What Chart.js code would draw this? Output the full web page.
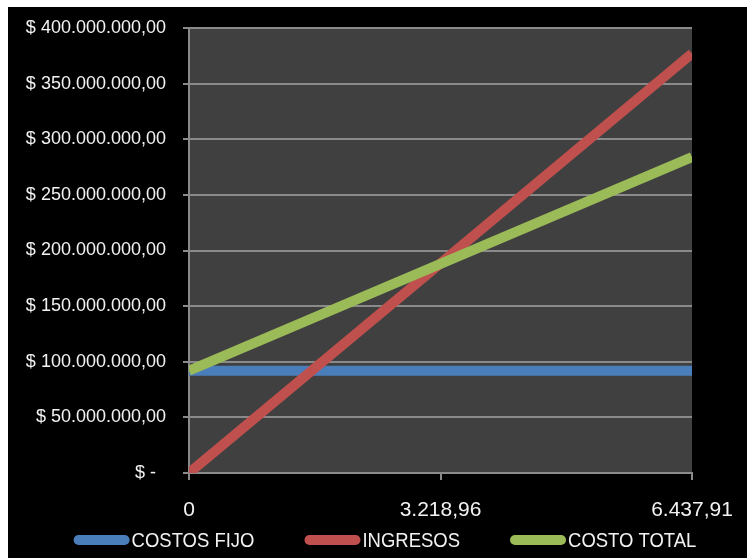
<!DOCTYPE html>
<html>
<head>
<meta charset="utf-8">
<script src="https://cdn.jsdelivr.net/npm/chart.js@4.4.1/dist/chart.umd.min.js"></script>
<style>
  html, body { margin: 0; padding: 0; background: #ffffff; }
  #wrap { position: absolute; left: 8px; top: 7px; width: 739px; height: 551px; background: #000000; }
  canvas { display: block; }
</style>
</head>
<body>
<div id="wrap"><canvas id="chart" width="739" height="551"></canvas></div>
<script>
// Break-even chart: quantities on the category axis, money on the value axis
const categories = ['0', '3.218,96', '6.437,91'];
const costosFijo = [92000000, 92000000, 92000000];
const ingresos = [0, 188500000, 377000000];
const costoTotal = [92000000, 188000000, 284000000];
const seriesNames = ['COSTOS FIJO', 'INGRESOS', 'COSTO TOTAL'];
const seriesColors = ['#4A7EBB', '#C0504D', '#9BBB59'];

const yMin = 0, yMax = 400000000, yStep = 50000000;

function money(v) {
  if (v === 0) return '$ -  ';
  const s = Math.round(v).toString().replace(/\B(?=(\d{3})+(?!\d))/g, '.');
  return '$ ' + s + ',00';
}

// Dark fill behind the plotting area
const plotBackground = {
  id: 'plotBackground',
  beforeDraw(chart) {
    const a = chart.chartArea, ctx = chart.ctx;
    ctx.save();
    ctx.fillStyle = '#404040';
    ctx.fillRect(a.left, a.top, a.right - a.left, a.bottom - a.top);
    ctx.restore();
  }
};

// Single-row legend: rounded line swatch followed closely by a narrow label
const lineLegend = {
  id: 'lineLegend',
  afterDraw(chart, args, opts) {
    const ctx = chart.ctx;
    const items = chart.data.datasets;
    const sw = opts.swatch, gap = opts.gap, between = opts.between, sx = opts.squeeze;
    ctx.save();
    ctx.font = opts.size + 'px ' + opts.family;
    const widths = items.map(d => ctx.measureText(d.label).width * sx);
    const total = items.length * (sw + gap) + widths.reduce((a, b) => a + b, 0) + (items.length - 1) * between;
    let x = opts.centerX - total / 2;
    const y = opts.y;
    items.forEach((d, i) => {
      ctx.strokeStyle = d.borderColor;
      ctx.lineWidth = opts.thickness;
      ctx.lineCap = 'round';
      ctx.beginPath();
      ctx.moveTo(x + opts.thickness / 2, y);
      ctx.lineTo(x + sw - opts.thickness / 2, y);
      ctx.stroke();
      x += sw + gap;
      ctx.save();
      ctx.translate(x, y);
      ctx.scale(sx, 1);
      ctx.fillStyle = opts.color;
      ctx.textBaseline = 'middle';
      ctx.textAlign = 'left';
      ctx.fillText(d.label, 0, 1);
      ctx.restore();
      x += widths[i] + between;
    });
    ctx.restore();
  }
};

const seriesData = [costosFijo, ingresos, costoTotal];
const datasets = seriesNames.map((name, i) => ({
  label: name,
  data: seriesData[i],
  borderColor: seriesColors[i],
  backgroundColor: seriesColors[i],
  borderWidth: 10,
  borderCapStyle: 'butt',
  pointRadius: 0,
  pointHoverRadius: 0,
  tension: 0,
  fill: false,
  clip: 0,
  order: seriesNames.length - i
}));

new Chart(document.getElementById('chart'), {
  type: 'line',
  data: { labels: categories, datasets },
  plugins: [plotBackground, lineLegend],
  options: {
    responsive: false,
    animation: false,
    events: [],
    layout: { padding: { top: 21, right: 55, left: 0, bottom: 35 } },
    plugins: {
      tooltip: { enabled: false },
      legend: { display: false },
      lineLegend: {
        centerX: 377, y: 533,
        swatch: 56, thickness: 10, gap: 2, between: 50,
        size: 21, squeeze: 0.88,
        family: "'Liberation Sans', Arial, sans-serif",
        color: '#f2f2f2'
      }
    },
    scales: {
      x: {
        type: 'category',
        offset: false,
        grid: { drawOnChartArea: false, drawTicks: true, tickLength: 7, color: '#8a8a8a', lineWidth: 2 },
        border: { display: true, color: '#8a8a8a', width: 2 },
        ticks: {
          color: '#f2f2f2',
          padding: 18,
          maxRotation: 0,
          autoSkip: false,
          font: { family: "'Liberation Sans', Arial, sans-serif", size: 21 }
        },
        afterFit(s) { s.height = 50; s.paddingLeft = 0; s.paddingRight = 0; }
      },
      y: {
        min: yMin,
        max: yMax,
        grid: { color: '#8a8a8a', lineWidth: 2, drawTicks: true, tickLength: 6 },
        border: { display: true, color: '#8a8a8a', width: 2 },
        ticks: {
          stepSize: yStep,
          color: '#f2f2f2',
          padding: 17,
          font: { family: "'Liberation Sans', Arial, sans-serif", size: 18 },
          callback: (v) => money(v)
        },
        afterFit(s) { s.width = 181; s.paddingTop = 0; s.paddingBottom = 0; }
      }
    }
  }
});
</script>
</body>
</html>
